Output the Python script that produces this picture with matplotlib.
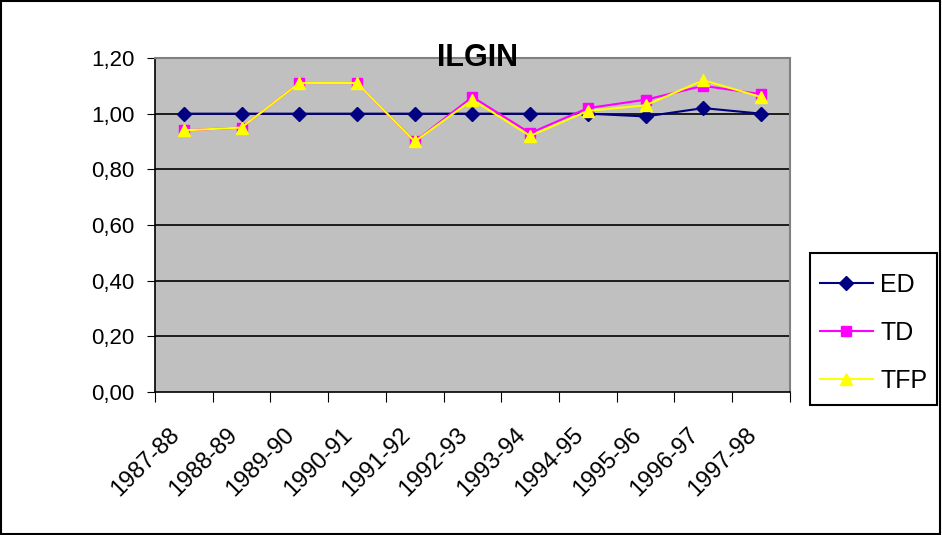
import matplotlib
matplotlib.use("Agg")
import matplotlib.pyplot as plt
from matplotlib.patches import Rectangle

plt.rcParams['font.family'] = ['Liberation Sans', 'DejaVu Sans']

categories = ["1987-88", "1988-89", "1989-90", "1990-91", "1991-92", "1992-93",
              "1993-94", "1994-95", "1995-96", "1996-97", "1997-98"]
ed = [1.00, 1.00, 1.00, 1.00, 1.00, 1.00, 1.00, 1.00, 0.99, 1.02, 1.00]
td = [0.94, 0.95, 1.11, 1.11, 0.90, 1.06, 0.93, 1.02, 1.05, 1.10, 1.07]
tfp = [0.94, 0.95, 1.11, 1.11, 0.90, 1.05, 0.92, 1.01, 1.03, 1.12, 1.06]
yticks = [0.0, 0.2, 0.4, 0.6, 0.8, 1.0, 1.2]

fig = plt.figure(figsize=(9.42, 5.35), dpi=100)
fig.patches.append(Rectangle((0.001, 0.001), 0.997, 0.997, transform=fig.transFigure,
                             fill=False, edgecolor='black', linewidth=1.5))
ax = fig.add_axes([0.1645, 0.2673, 0.674, 0.6243])
ax.set_facecolor('#C0C0C0')

x = list(range(len(categories)))
for yv in yticks[1:-1]:
    ax.axhline(yv, color='black', linewidth=1.2, zorder=1)

ax.plot(x, ed, color='#000080', marker='D', markersize=7, linewidth=1.5, label='ED', zorder=3)
ax.plot(x, td, color='#FF00FF', marker='s', markersize=7, linewidth=1.5, label='TD', zorder=4)
ax.plot(x, tfp, color='#FFFF00', marker='^', markersize=8, linewidth=1.5, label='TFP', zorder=5)

ax.set_xlim(-0.5, len(categories) - 0.5)
ax.set_ylim(0, 1.2)
ax.set_yticks(yticks)
ax.set_yticklabels([f"{v:.2f}".replace('.', ',') for v in yticks], fontsize=16)
ax.set_xticks([i - 0.5 for i in range(len(categories) + 1)])
ax.set_xticklabels([])
ax.set_xticks(x, minor=True)
ax.set_xticklabels(categories, minor=True, rotation=45, ha='right', va='bottom',
                   rotation_mode='anchor', fontsize=17)
ax.tick_params(axis='x', which='minor', length=0, pad=34)
ax.tick_params(axis='x', which='major', length=7, direction='out', color='black')
ax.tick_params(axis='y', length=6, direction='out', color='black', pad=9)

for s in ['top', 'right']:
    ax.spines[s].set_color('#808080')
    ax.spines[s].set_linewidth(1.5)
for s in ['left', 'bottom']:
    ax.spines[s].set_color('black')
    ax.spines[s].set_linewidth(1.2)

fig.text(0.507, 0.892, "ILGIN", ha='center', va='center', fontsize=22, fontweight='bold')

leg = fig.legend(loc='upper left', bbox_to_anchor=(0.860, 0.5084), frameon=False,
                 fontsize=18, handlelength=2.1, labelspacing=0.95, borderpad=0.4,
                 handletextpad=0.3, borderaxespad=0)
fig.patches.append(Rectangle((0.8599, 0.243), 0.1348, 0.2841, transform=fig.transFigure,
                             fill=False, edgecolor='black', linewidth=1.5))

fig.savefig("out.png", dpi=100)
